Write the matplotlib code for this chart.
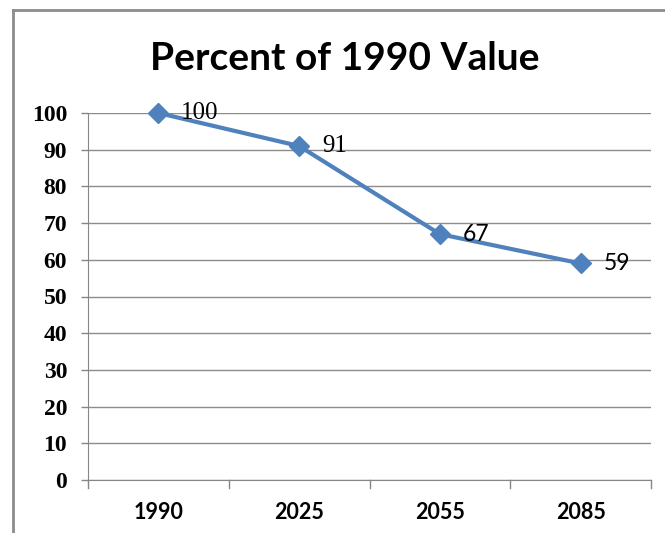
import matplotlib
matplotlib.use("Agg")
import matplotlib.pyplot as plt
from matplotlib.lines import Line2D

categories = ["1990", "2025", "2055", "2085"]
values = [100, 91, 67, 59]
label_fonts = ["Liberation Serif", "Liberation Serif", "Lato", "Lato"]
label_sizes = [18, 18, 16.5, 16.5]
yticks = [0, 10, 20, 30, 40, 50, 60, 70, 80, 90, 100]
title = "Percent of 1990 Value"

W, H = 665, 533
fig = plt.figure(figsize=(W / 100, H / 100), dpi=100)
fig.patch.set_facecolor("white")

# outer chart frame (partially cropped in the reference)
frame_col = "#8c8c8c"
fig.add_artist(Line2D([13 / W, 1.0], [1 - 10 / H, 1 - 10 / H], color=frame_col, lw=2, transform=fig.transFigure))
fig.add_artist(Line2D([13 / W, 13 / W], [0, 1 - 10 / H], color=frame_col, lw=2, transform=fig.transFigure))

left, right = 88 / W, 651 / W
bottom, top = 1 - 480 / H, 1 - 113 / H
ax = fig.add_axes([left, bottom, right - left, top - bottom])

x = list(range(len(categories)))
line_col = "#4F81BD"
ax.plot(x, values, color=line_col, lw=3, marker="D", markersize=10.5, zorder=3, clip_on=False)

ax.set_xlim(-0.5, len(categories) - 0.5)
ax.set_ylim(0, 100)
ax.set_yticks(yticks)
ax.set_yticklabels([str(v) for v in yticks], fontfamily="Liberation Serif", fontweight="bold", fontsize=17)
ax.set_xticks(x)
ax.set_xticklabels(categories, fontfamily="Lato", fontweight="bold", fontsize=15.5)
ax.tick_params(axis="x", length=0, pad=16)
ax.tick_params(axis="y", length=5, width=1, color="#868686", pad=10, direction="out")

# category boundary ticks on the x axis
for b in [i - 0.5 for i in range(len(categories) + 1)]:
    ax.plot([b, b], [0, -2.2], color="#868686", lw=1, clip_on=False, zorder=2)

ax.yaxis.grid(True, color="#8c8c8c", lw=1)
ax.set_axisbelow(True)
for s in ["top", "right"]:
    ax.spines[s].set_visible(False)
ax.spines["left"].set_color("#868686")
ax.spines["bottom"].set_color("#868686")

for xi, v, f, fs in zip(x, values, label_fonts, label_sizes):
    ax.annotate(str(v), (xi, v), xytext=(16.5, 0), textcoords="offset points",
                ha="left", va="center", fontsize=fs, fontfamily=f, color="black")

fig.text(345 / W, 1 - 58 / H, title, ha="center", va="center", fontsize=28,
         fontweight="bold", fontfamily="Lato")

fig.savefig("out.png", dpi=100)
